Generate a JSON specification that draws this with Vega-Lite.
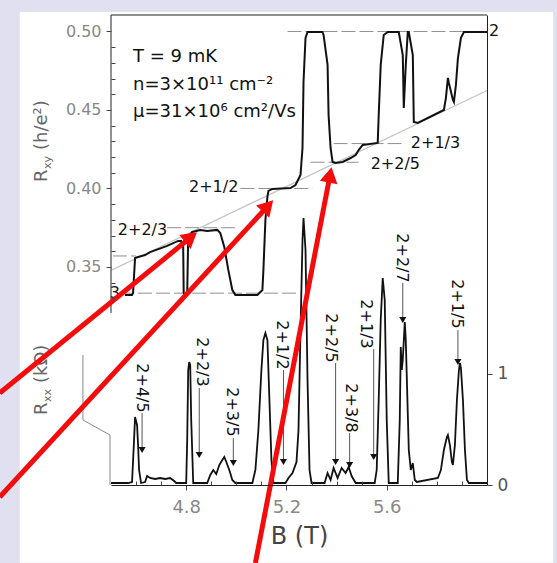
{
  "$schema": "https://vega.github.io/schema/vega-lite/v6.json",
  "width": 376,
  "height": 470,
  "autosize": {"type": "none"},
  "padding": {"left": 111, "top": 15, "right": 70, "bottom": 78},
  "background": "#e0e0f0",
  "config": {"view": {"stroke": null}, "font": "DejaVu Sans"},
  "datasets": {
    "rxy": [
      {"B": 4.556, "R": 0.3322}, {"B": 4.584, "R": 0.3322}, {"B": 4.588, "R": 0.3334}, {"B": 4.596, "R": 0.3557},
      {"B": 4.608, "R": 0.3563}, {"B": 4.636, "R": 0.3576}, {"B": 4.656, "R": 0.3595}, {"B": 4.724, "R": 0.3634},
      {"B": 4.768, "R": 0.3666}, {"B": 4.78, "R": 0.3666}, {"B": 4.788, "R": 0.3627}, {"B": 4.79, "R": 0.3334},
      {"B": 4.796, "R": 0.3322}, {"B": 4.804, "R": 0.3328}, {"B": 4.808, "R": 0.3691}, {"B": 4.824, "R": 0.3723},
      {"B": 4.856, "R": 0.3736}, {"B": 4.884, "R": 0.3729}, {"B": 4.924, "R": 0.3736}, {"B": 4.936, "R": 0.3716},
      {"B": 4.952, "R": 0.3627}, {"B": 4.968, "R": 0.3481}, {"B": 4.984, "R": 0.3353}, {"B": 4.996, "R": 0.3322},
      {"B": 5.084, "R": 0.3322}, {"B": 5.104, "R": 0.3353}, {"B": 5.108, "R": 0.3481}, {"B": 5.116, "R": 0.3799},
      {"B": 5.124, "R": 0.3946}, {"B": 5.128, "R": 0.3984}, {"B": 5.144, "R": 0.3997}, {"B": 5.216, "R": 0.4003},
      {"B": 5.236, "R": 0.4022}, {"B": 5.256, "R": 0.4086}, {"B": 5.264, "R": 0.4258}, {"B": 5.268, "R": 0.4678},
      {"B": 5.276, "R": 0.4959}, {"B": 5.284, "R": 0.4997}, {"B": 5.344, "R": 0.4997}, {"B": 5.348, "R": 0.4978},
      {"B": 5.364, "R": 0.4787}, {"B": 5.368, "R": 0.4468}, {"B": 5.376, "R": 0.4258}, {"B": 5.384, "R": 0.4169},
      {"B": 5.396, "R": 0.4162}, {"B": 5.424, "R": 0.4169}, {"B": 5.456, "R": 0.4194}, {"B": 5.476, "R": 0.4213},
      {"B": 5.488, "R": 0.4245}, {"B": 5.504, "R": 0.4277}, {"B": 5.564, "R": 0.429}, {"B": 5.568, "R": 0.4468},
      {"B": 5.576, "R": 0.4787}, {"B": 5.588, "R": 0.4978}, {"B": 5.604, "R": 0.4997}, {"B": 5.648, "R": 0.4997},
      {"B": 5.664, "R": 0.485}, {"B": 5.668, "R": 0.4513}, {"B": 5.676, "R": 0.4787}, {"B": 5.684, "R": 0.4997},
      {"B": 5.688, "R": 0.4997}, {"B": 5.704, "R": 0.485}, {"B": 5.708, "R": 0.4424}, {"B": 5.724, "R": 0.4417},
      {"B": 5.828, "R": 0.45}, {"B": 5.836, "R": 0.4576}, {"B": 5.844, "R": 0.4704}, {"B": 5.848, "R": 0.4672},
      {"B": 5.864, "R": 0.4564}, {"B": 5.868, "R": 0.4551}, {"B": 5.876, "R": 0.4659}, {"B": 5.884, "R": 0.4831},
      {"B": 5.896, "R": 0.4959}, {"B": 5.908, "R": 0.4997}, {"B": 5.936, "R": 0.4997}, {"B": 6.0, "R": 0.4997}
    ],
    "rxx": [
      {"B": 4.5, "R": 0.018}, {"B": 4.568, "R": 0.018}, {"B": 4.584, "R": 0.027}, {"B": 4.592, "R": 0.405},
      {"B": 4.596, "R": 0.613}, {"B": 4.604, "R": 0.541}, {"B": 4.608, "R": 0.36}, {"B": 4.612, "R": 0.135},
      {"B": 4.62, "R": 0.018}, {"B": 4.636, "R": 0.027}, {"B": 4.644, "R": 0.081}, {"B": 4.656, "R": 0.063},
      {"B": 4.676, "R": 0.054}, {"B": 4.696, "R": 0.063}, {"B": 4.716, "R": 0.054}, {"B": 4.736, "R": 0.063},
      {"B": 4.752, "R": 0.036}, {"B": 4.76, "R": 0.018}, {"B": 4.8, "R": 0.018}, {"B": 4.804, "R": 0.405},
      {"B": 4.808, "R": 1.036}, {"B": 4.812, "R": 1.108}, {"B": 4.816, "R": 1.081}, {"B": 4.82, "R": 0.586},
      {"B": 4.828, "R": 0.018}, {"B": 4.884, "R": 0.018}, {"B": 4.896, "R": 0.09}, {"B": 4.908, "R": 0.135},
      {"B": 4.92, "R": 0.099}, {"B": 4.932, "R": 0.18}, {"B": 4.944, "R": 0.225}, {"B": 4.952, "R": 0.252},
      {"B": 4.96, "R": 0.207}, {"B": 4.972, "R": 0.135}, {"B": 4.984, "R": 0.045}, {"B": 4.996, "R": 0.018},
      {"B": 5.064, "R": 0.018}, {"B": 5.076, "R": 0.135}, {"B": 5.088, "R": 0.495}, {"B": 5.1, "R": 1.036},
      {"B": 5.108, "R": 1.306}, {"B": 5.116, "R": 1.369}, {"B": 5.124, "R": 1.306}, {"B": 5.132, "R": 0.766},
      {"B": 5.14, "R": 0.225}, {"B": 5.148, "R": 0.018}, {"B": 5.196, "R": 0.018}, {"B": 5.208, "R": 0.063},
      {"B": 5.224, "R": 0.108}, {"B": 5.24, "R": 0.207}, {"B": 5.248, "R": 0.495}, {"B": 5.256, "R": 1.396},
      {"B": 5.264, "R": 2.207}, {"B": 5.268, "R": 2.405}, {"B": 5.276, "R": 2.117}, {"B": 5.284, "R": 0.946},
      {"B": 5.292, "R": 0.135}, {"B": 5.3, "R": 0.018}, {"B": 5.352, "R": 0.018}, {"B": 5.364, "R": 0.108},
      {"B": 5.376, "R": 0.045}, {"B": 5.388, "R": 0.153}, {"B": 5.404, "R": 0.063}, {"B": 5.42, "R": 0.153},
      {"B": 5.436, "R": 0.108}, {"B": 5.448, "R": 0.162}, {"B": 5.46, "R": 0.081}, {"B": 5.476, "R": 0.018},
      {"B": 5.552, "R": 0.018}, {"B": 5.56, "R": 0.135}, {"B": 5.568, "R": 0.766}, {"B": 5.576, "R": 1.486},
      {"B": 5.584, "R": 1.865}, {"B": 5.592, "R": 1.667}, {"B": 5.6, "R": 0.586}, {"B": 5.608, "R": 0.018},
      {"B": 5.644, "R": 0.018}, {"B": 5.652, "R": 0.586}, {"B": 5.656, "R": 1.243}, {"B": 5.66, "R": 1.036},
      {"B": 5.664, "R": 1.126}, {"B": 5.672, "R": 1.468}, {"B": 5.676, "R": 1.306}, {"B": 5.68, "R": 0.973},
      {"B": 5.688, "R": 0.315}, {"B": 5.696, "R": 0.135}, {"B": 5.704, "R": 0.198}, {"B": 5.712, "R": 0.045},
      {"B": 5.72, "R": 0.027}, {"B": 5.804, "R": 0.063}, {"B": 5.816, "R": 0.135}, {"B": 5.828, "R": 0.315},
      {"B": 5.84, "R": 0.432}, {"B": 5.844, "R": 0.45}, {"B": 5.852, "R": 0.36}, {"B": 5.86, "R": 0.207},
      {"B": 5.864, "R": 0.18}, {"B": 5.872, "R": 0.36}, {"B": 5.88, "R": 0.766}, {"B": 5.888, "R": 1.036},
      {"B": 5.892, "R": 1.099}, {"B": 5.896, "R": 1.054}, {"B": 5.904, "R": 0.766}, {"B": 5.912, "R": 0.315},
      {"B": 5.92, "R": 0.045}, {"B": 5.928, "R": 0.018}, {"B": 6.0, "R": 0.018}
    ],
    "hall": [{"B": 4.5, "R": 0.3478}, {"B": 6.0, "R": 0.4624}],
    "levels": [
      {"R": 0.5, "B": 5.204, "B2": 6.0},
      {"R": 0.4286, "B": 5.388, "B2": 5.668},
      {"R": 0.4167, "B": 5.296, "B2": 5.488},
      {"R": 0.4, "B": 5.016, "B2": 5.304},
      {"R": 0.375, "B": 4.724, "B2": 4.996},
      {"R": 0.357, "B": 4.508, "B2": 4.6},
      {"R": 0.3333, "B": 4.536, "B2": 5.256}
    ],
    "toplabels": [
      {"t": "2", "B": 6.008, "R": 0.5},
      {"t": "2+1/3", "B": 5.696, "R": 0.429},
      {"t": "2+2/5", "B": 5.536, "R": 0.4156},
      {"t": "2+1/2", "B": 5.008, "R": 0.401},
      {"t": "2+2/3", "B": 4.724, "R": 0.3736},
      {"t": "3", "B": 4.536, "R": 0.3334}
    ],
    "info": [
      {"line": "T = 9 mK", "B": 4.588, "R": 0.4806},
      {"line": "n=3×10¹¹ cm⁻²", "B": 4.588, "R": 0.4627},
      {"line": "μ=31×10⁶ cm²/Vs", "B": 4.588, "R": 0.4455}
    ],
    "fractions": [
      {"t": "2+4/5", "Bt": 4.624, "Rt": 0.874, "Bl": 4.624, "top": 0.649, "tip": 0.315},
      {"t": "2+2/3", "Bt": 4.864, "Rt": 1.108, "Bl": 4.852, "top": 0.874, "tip": 0.27},
      {"t": "2+3/5", "Bt": 4.984, "Rt": 0.658, "Bl": 4.988, "top": 0.423, "tip": 0.198},
      {"t": "2+1/2", "Bt": 5.184, "Rt": 1.261, "Bl": 5.188, "top": 1.036, "tip": 0.207},
      {"t": "2+2/5", "Bt": 5.376, "Rt": 1.324, "Bl": 5.396, "top": 1.099, "tip": 0.207},
      {"t": "2+3/8", "Bt": 5.456, "Rt": 0.694, "Bl": 5.452, "top": 0.468, "tip": 0.18},
      {"t": "2+1/3", "Bt": 5.516, "Rt": 1.45, "Bl": 5.548, "top": 1.225, "tip": 0.252},
      {"t": "2+2/7", "Bt": 5.66, "Rt": 2.045, "Bl": 5.664, "top": 1.82, "tip": 1.486},
      {"t": "2+1/5", "Bt": 5.88, "Rt": 1.631, "Bl": 5.884, "top": 1.396, "tip": 1.108}
    ],
    "panel": [{"B": 4.136, "B2": 6.264, "R": 0.1615, "R2": 0.5124}],
    "frametop": [{"B": 4.5, "B2": 6.0, "R": 4.234}],
    "frameleft": [{"B": 4.5, "R": 0.3207, "R2": 0.5105}],
    "rxytitle": [{"B": 4.244, "R": 0.4041}],
    "rxxtitle": [{"B": 4.244, "R": 0.631}],
    "brk": [
      {"k": 0, "B": 4.388, "R": 1.171},
      {"k": 1, "B": 4.388, "R": 0.586},
      {"k": 2, "B": 4.496, "R": 0.45},
      {"k": 3, "B": 4.496, "R": 0.0}
    ],
    "arrows": [
      {"id": 1, "end": "tail", "B": 4.056, "R": 0.829},
      {"id": 1, "end": "head", "B": 4.819, "R": 2.233},
      {"id": 2, "end": "tail", "B": 4.056, "R": -0.108},
      {"id": 2, "end": "head", "B": 5.126, "R": 2.514},
      {"id": 3, "end": "tail", "B": 5.076, "R": -0.703},
      {"id": 3, "end": "head", "B": 5.374, "R": 2.794}
    ]
  },
  "encoding": {
    "x": {
      "field": "B",
      "type": "quantitative",
      "scale": {"domain": [4.5, 6.0], "nice": false, "zero": false},
      "axis": {
        "values": [4.6, 4.7, 4.8, 4.9, 5.0, 5.1, 5.2, 5.3, 5.4, 5.5, 5.6, 5.7, 5.8, 5.9],
        "labelExpr": "indexof(['4.8','5.2','5.6'], format(datum.value, '.1f')) >= 0 ? format(datum.value, '.1f') : ''",
        "tickSize": {"condition": {"test": "indexof(['4.8','5.2','5.6'], format(datum.value, '.1f')) >= 0", "value": 5}, "value": -4},
        "zindex": 1,
        "grid": false,
        "domainColor": "#222",
        "tickColor": "#444",
        "labelColor": "#888",
        "labelFontSize": 18,
        "labelPadding": 8,
        "labelOverlap": false,
        "title": "B (T)",
        "titleFontSize": 24,
        "titleFontWeight": "normal",
        "titleColor": "#444",
        "titlePadding": 8
      }
    }
  },
  "layer": [
    {
      "encoding": {
        "y": {
          "field": "R",
          "type": "quantitative",
          "scale": {"domain": [0.2111, 0.5105], "nice": false, "zero": false},
          "axis": {
            "orient": "left",
            "values": [0.33, 0.34, 0.35, 0.36, 0.37, 0.38, 0.39, 0.4, 0.41, 0.42, 0.43, 0.44, 0.45, 0.46, 0.47, 0.48, 0.49, 0.5],
            "labelExpr": "round(datum.value * 100) % 5 == 0 ? format(datum.value, '.2f') : ''",
            "tickSize": {"condition": {"test": "round(datum.value * 100) % 5 == 0", "value": 5}, "value": -4},
            "domain": false,
            "zindex": 1,
            "grid": false,
            "tickColor": "#444",
            "labelColor": "#888",
            "labelFontSize": 16,
            "labelPadding": 5,
            "labelOverlap": false,
            "title": null
          }
        }
      },
      "layer": [
        {
          "data": {"name": "panel"},
          "mark": {"type": "rect", "fill": "white"},
          "encoding": {"x2": {"field": "B2"}, "y2": {"field": "R2"}}
        },
        {
          "data": {"name": "hall"},
          "mark": {"type": "line", "color": "#c4c4c4", "strokeWidth": 1.2},
          "encoding": {}
        },
        {
          "data": {"name": "levels"},
          "mark": {"type": "rule", "color": "#909090", "strokeWidth": 1, "strokeDash": [14, 4]},
          "encoding": {"x2": {"field": "B2"}}
        },
        {
          "data": {"name": "rxy"},
          "mark": {"type": "line", "color": "#111", "strokeWidth": 2},
          "encoding": {}
        },
        {
          "data": {"name": "toplabels"},
          "transform": [{"filter": {"field": "t", "oneOf": ["2", "2+1/3", "2+2/5"]}}],
          "mark": {"type": "text", "align": "left", "baseline": "middle", "fontSize": 16, "color": "#111"},
          "encoding": {"text": {"field": "t"}}
        },
        {
          "data": {"name": "toplabels"},
          "transform": [{"filter": {"field": "t", "oneOf": ["2+1/2", "2+2/3", "3"]}}],
          "mark": {"type": "text", "align": "right", "baseline": "middle", "fontSize": 16, "color": "#111"},
          "encoding": {"text": {"field": "t"}}
        },
        {
          "data": {"name": "info"},
          "mark": {"type": "text", "align": "left", "baseline": "alphabetic", "fontSize": 18, "color": "#111"},
          "encoding": {"text": {"field": "line"}}
        },
        {
          "data": {"name": "frameleft"},
          "mark": {"type": "rule", "color": "#222", "strokeWidth": 1},
          "encoding": {"y2": {"field": "R2"}}
        },
        {
          "data": {"name": "rxytitle"},
          "mark": {"type": "text", "angle": 270, "align": "left", "baseline": "alphabetic", "fontSize": 18, "color": "#666"},
          "encoding": {"text": {"value": "R"}}
        },
        {
          "data": {"name": "rxytitle"},
          "mark": {"type": "text", "angle": 270, "align": "left", "baseline": "alphabetic", "fontSize": 11, "color": "#666", "dx": 13, "dy": 4},
          "encoding": {"text": {"value": "xy"}}
        },
        {
          "data": {"name": "rxytitle"},
          "mark": {"type": "text", "angle": 270, "align": "left", "baseline": "alphabetic", "fontSize": 18, "color": "#666", "dx": 32},
          "encoding": {"text": {"value": "(h/e²)"}}
        }
      ]
    },
    {
      "encoding": {
        "y": {
          "field": "R",
          "type": "quantitative",
          "scale": {"domain": [0, 4.234], "nice": false, "zero": false},
          "axis": {
            "orient": "right",
            "values": [0, 1],
            "format": "d",
            "zindex": 1,
            "grid": false,
            "domainColor": "#222",
            "tickColor": "#444",
            "tickSize": 5,
            "labelColor": "#555",
            "labelFontSize": 17,
            "labelPadding": 5,
            "title": null
          }
        }
      },
      "layer": [
        {
          "data": {"name": "frametop"},
          "mark": {"type": "rule", "color": "#222", "strokeWidth": 1},
          "encoding": {"x2": {"field": "B2"}}
        },
        {
          "data": {"name": "brk"},
          "mark": {"type": "line", "color": "#888", "strokeWidth": 1},
          "encoding": {"order": {"field": "k"}}
        },
        {
          "data": {"name": "rxx"},
          "mark": {"type": "line", "color": "#111", "strokeWidth": 1.8},
          "encoding": {}
        },
        {
          "data": {"name": "fractions"},
          "mark": {"type": "rule", "color": "#555", "strokeWidth": 1},
          "encoding": {"x": {"field": "Bl", "type": "quantitative"}, "y": {"field": "top", "type": "quantitative"}, "y2": {"field": "tip"}}
        },
        {
          "data": {"name": "fractions"},
          "mark": {"type": "point", "shape": "triangle-down", "filled": true, "color": "#111", "size": 50, "opacity": 1},
          "encoding": {"x": {"field": "Bl", "type": "quantitative"}, "y": {"field": "tip", "type": "quantitative"}}
        },
        {
          "data": {"name": "fractions"},
          "mark": {"type": "text", "angle": 90, "align": "center", "baseline": "middle", "fontSize": 16, "color": "#111"},
          "encoding": {"x": {"field": "Bt", "type": "quantitative"}, "y": {"field": "Rt", "type": "quantitative"}, "text": {"field": "t"}}
        },
        {
          "data": {"name": "rxxtitle"},
          "mark": {"type": "text", "angle": 270, "align": "left", "baseline": "alphabetic", "fontSize": 18, "color": "#666"},
          "encoding": {"text": {"value": "R"}}
        },
        {
          "data": {"name": "rxxtitle"},
          "mark": {"type": "text", "angle": 270, "align": "left", "baseline": "alphabetic", "fontSize": 11, "color": "#666", "dx": 13, "dy": 4},
          "encoding": {"text": {"value": "xx"}}
        },
        {
          "data": {"name": "rxxtitle"},
          "mark": {"type": "text", "angle": 270, "align": "left", "baseline": "alphabetic", "fontSize": 18, "color": "#666", "dx": 32},
          "encoding": {"text": {"value": "(kΩ)"}}
        },
        {
          "data": {"name": "arrows"},
          "mark": {"type": "line", "color": "#f40c0c", "strokeWidth": 5, "strokeCap": "butt"},
          "encoding": {"detail": {"field": "id"}}
        },
        {
          "data": {"name": "arrows"},
          "transform": [{"filter": "datum.id == 1 && datum.end == 'head'"}],
          "mark": {"type": "point", "shape": "triangle-up", "filled": true, "color": "#f40c0c", "size": 320, "opacity": 1, "angle": 50.7},
          "encoding": {}
        },
        {
          "data": {"name": "arrows"},
          "transform": [{"filter": "datum.id == 2 && datum.end == 'head'"}],
          "mark": {"type": "point", "shape": "triangle-up", "filled": true, "color": "#f40c0c", "size": 320, "opacity": 1, "angle": 42.6},
          "encoding": {}
        },
        {
          "data": {"name": "arrows"},
          "transform": [{"filter": "datum.id == 3 && datum.end == 'head'"}],
          "mark": {"type": "point", "shape": "triangle-up", "filled": true, "color": "#f40c0c", "size": 320, "opacity": 1, "angle": 10.9},
          "encoding": {}
        }
      ]
    }
  ],
  "resolve": {"scale": {"y": "independent"}}
}
